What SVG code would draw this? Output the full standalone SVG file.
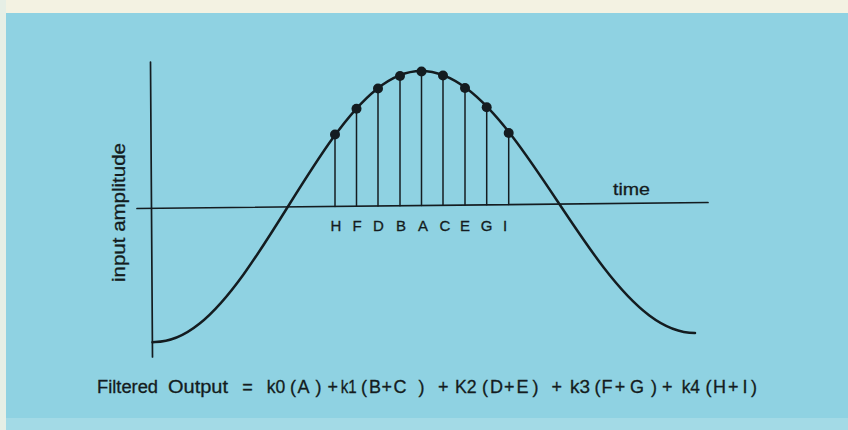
<svg xmlns="http://www.w3.org/2000/svg" width="848" height="430" viewBox="0 0 848 430">
<style>
.ln{fill:none;stroke:#141c20;stroke-linecap:round;stroke-linejoin:round}
.ax{stroke-width:1.7}
.st{stroke-width:1.5}
.cv{stroke-width:2.5}
.dot{fill:#141c20}
text{font-family:"Liberation Sans",Arial,Helvetica,sans-serif;fill:#141c20;stroke:#141c20;stroke-width:0.3}
.lbl{font-size:15px;text-anchor:middle}
.eq{font-size:18px}
</style>
<rect x="0" y="0" width="848" height="430" fill="#8fd2e2"/>
<rect x="0" y="0" width="848" height="13" fill="#f3f2e2"/>
<rect x="0" y="0" width="6" height="430" fill="#e6efe6"/>
<rect x="6" y="418" width="842" height="12" fill="#a3dae6"/>
<g id="axes">
<line class="ln ax" x1="150.5" y1="62" x2="152.5" y2="357"/>
<line class="ln ax" x1="137" y1="208.5" x2="708" y2="202.5"/>
</g>
<g id="stems">
<line class="ln st" x1="335" y1="135" x2="335" y2="206.4"/>
<line class="ln st" x1="356.5" y1="109" x2="356.5" y2="206.2"/>
<line class="ln st" x1="378" y1="88.5" x2="378" y2="206"/>
<line class="ln st" x1="400" y1="76" x2="400" y2="205.7"/>
<line class="ln st" x1="421.5" y1="71.5" x2="421.5" y2="205.5"/>
<line class="ln st" x1="443" y1="75" x2="443" y2="205.3"/>
<line class="ln st" x1="465" y1="88" x2="465" y2="205"/>
<line class="ln st" x1="486.7" y1="107" x2="486.7" y2="204.8"/>
<line class="ln st" x1="508.7" y1="133" x2="508.7" y2="204.6"/>
</g>
<g id="curve">
<path class="ln cv" d="M152.5,342.3 L155,342 C169.78,342 184.56,335.67 199.33,323.85 C214.11,312.03 228.89,294.73 243.67,274.25 C258.44,253.77 273.22,230.15 288,206.5 C302.78,182.85 317.56,159.23 332.33,138.75 C347.11,118.27 361.89,100.97 376.67,89.15 C391.44,77.33 406.22,71 421,71 C436.22,71 451.44,77.12 466.67,88.55 C481.89,99.98 497.11,116.7 512.33,136.5 C527.56,156.3 542.78,179.14 558,202 C573.22,224.86 588.44,247.7 603.67,267.5 C618.89,287.3 634.11,304.02 649.33,315.45 C664.56,326.88 679.78,333 695,333"/>
</g>
<g id="samples">
<circle class="dot" cx="335" cy="134.5" r="5"/>
<circle class="dot" cx="356.5" cy="108.8" r="5"/>
<circle class="dot" cx="378" cy="88.5" r="5"/>
<circle class="dot" cx="400" cy="76" r="5"/>
<circle class="dot" cx="421.5" cy="71.5" r="5"/>
<circle class="dot" cx="443" cy="75.5" r="5"/>
<circle class="dot" cx="465" cy="88" r="5"/>
<circle class="dot" cx="486.7" cy="107.3" r="5"/>
<circle class="dot" cx="508.7" cy="133" r="5"/>
</g>
<g id="labels">
<text class="lbl" x="336" y="231">H</text>
<text class="lbl" x="357" y="231">F</text>
<text class="lbl" x="378.5" y="231">D</text>
<text class="lbl" x="401" y="231">B</text>
<text class="lbl" x="423" y="231">A</text>
<text class="lbl" x="445" y="231">C</text>
<text class="lbl" x="465" y="231">E</text>
<text class="lbl" x="486.5" y="231">G</text>
<text class="lbl" x="505" y="231">I</text>
<text x="613" y="195" font-size="17" textLength="37" lengthAdjust="spacingAndGlyphs">time</text>
<text x="0" y="0" font-size="18" text-anchor="middle" textLength="139" lengthAdjust="spacingAndGlyphs" transform="translate(125,212.5) rotate(-90)">input amplitude</text>
</g>
<g id="formula">
<text class="eq" y="393"><tspan x="97" textLength="61" lengthAdjust="spacingAndGlyphs">Filtered</tspan><tspan x="168" textLength="60" lengthAdjust="spacingAndGlyphs">Output</tspan><tspan x="242.2">=</tspan><tspan x="266.7" textLength="18.5" lengthAdjust="spacingAndGlyphs">k0</tspan><tspan x="290">(</tspan><tspan x="297.5">A</tspan><tspan x="315.5">)</tspan><tspan x="327.4">+</tspan><tspan x="340.7" textLength="16" lengthAdjust="spacingAndGlyphs">k1</tspan><tspan x="361">(</tspan><tspan x="369">B</tspan><tspan x="381.4">+</tspan><tspan x="393.5">C</tspan><tspan x="418.5">)</tspan><tspan x="438">+</tspan><tspan x="455" textLength="21.7" lengthAdjust="spacingAndGlyphs">K2</tspan><tspan x="482">(</tspan><tspan x="490">D</tspan><tspan x="504">+</tspan><tspan x="516.5">E</tspan><tspan x="532.5">)</tspan><tspan x="551.4">+</tspan><tspan x="570" textLength="20" lengthAdjust="spacingAndGlyphs">k3</tspan><tspan x="594.5">(</tspan><tspan x="601.5">F</tspan><tspan x="614.7">+</tspan><tspan x="630">G</tspan><tspan x="651">)</tspan><tspan x="662">+</tspan><tspan x="681.7" textLength="18.3" lengthAdjust="spacingAndGlyphs">k4</tspan><tspan x="705.5">(</tspan><tspan x="713">H</tspan><tspan x="728">+</tspan><tspan x="742.5">I</tspan><tspan x="751">)</tspan></text>
</g>
</svg>
